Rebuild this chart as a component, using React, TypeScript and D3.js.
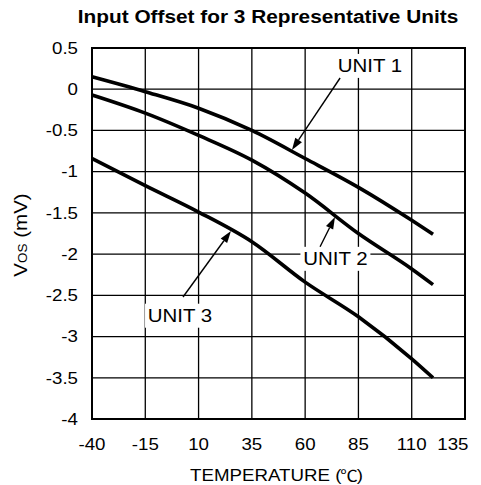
import React from "react";
import * as d3 from "d3";

const temps = [-40, -15, 10, 35, 60, 85, 110, 120];
const unit1 = [0.15, -0.03, -0.23, -0.5, -0.84, -1.19, -1.59, -1.76];
const unit2 = [-0.07, -0.29, -0.56, -0.86, -1.26, -1.75, -2.18, -2.37];
const unit3 = [-0.84, -1.17, -1.49, -1.85, -2.34, -2.76, -3.27, -3.5];
const seriesList = [unit1, unit2, unit3];

const xTicks = [-40, -15, 10, 35, 60, 85, 110, 135];
const yTicks = [0.5, 0, -0.5, -1, -1.5, -2, -2.5, -3, -3.5, -4];

const annotations = [
  { label: "UNIT 1", tx: 90.4, ty: 0.21, fromT: 76.4, fromV: 0.136, toT: 53.8, toV: -0.736 },
  { label: "UNIT 2", tx: 74.2, ty: -2.13, fromT: 67.0, fromV: -1.91, toT: 74.0, toV: -1.55 },
  { label: "UNIT 3", tx: 1.3, ty: -2.82, fromT: 2.7, fromV: -2.52, toT: 25.2, toV: -1.72 },
];

const title = "Input Offset for 3 Representative Units";
const xTitleMain = "TEMPERATURE (";
const xTitleUnit = "\u2103";

const W = 481;
const H = 485;
const M = { left: 92, right: 16, top: 48, bottom: 66 };
const FONT = "'Liberation Sans', Arial, Helvetica, sans-serif";
const SX = 1.17;

export default function App() {
  const x = d3.scaleLinear().domain([-40, 135]).range([M.left, W - M.right]);
  const y = d3.scaleLinear().domain([-4, 0.5]).range([H - M.bottom, M.top]);
  const line = d3
    .line<number>()
    .x((_, i) => x(temps[i]))
    .y((d) => y(d))
    .curve(d3.curveMonotoneX);

  const x0 = x(-40), x1 = x(135), y0 = y(0.5), y1 = y(-4);

  return (
    <svg
      width={W}
      height={H}
      style={{ position: "absolute", left: 0, top: 0, background: "#fff" }}
      fontFamily={FONT}
    >
      <rect x={0} y={0} width={W} height={H} fill="#fff" />
      {xTicks.slice(1, -1).map((t) => (
        <line key={"gx" + t} x1={x(t)} x2={x(t)} y1={y0} y2={y1} stroke="#000" strokeWidth={1.3} />
      ))}
      {yTicks.slice(1, -1).map((t) => (
        <line key={"gy" + t} x1={x0} x2={x1} y1={y(t)} y2={y(t)} stroke="#000" strokeWidth={1.3} />
      ))}
      <rect x={x0} y={y0} width={x1 - x0} height={y1 - y0} fill="none" stroke="#000" strokeWidth={2} />

      {seriesList.map((s, i) => (
        <path key={"s" + i} d={line(s) || ""} fill="none" stroke="#000" strokeWidth={3.6} strokeLinejoin="round" />
      ))}

      {annotations.map((a) => {
        const fx = x(a.fromT), fy = y(a.fromV), tx = x(a.toT), ty = y(a.toV);
        const ang = Math.atan2(ty - fy, tx - fx);
        const L = 12, Wd = 4;
        const bx = tx - L * Math.cos(ang), by = ty - L * Math.sin(ang);
        const p1 = [bx + Wd * Math.sin(ang), by - Wd * Math.cos(ang)];
        const p2 = [bx - Wd * Math.sin(ang), by + Wd * Math.cos(ang)];
        const cx = x(a.tx), cy = y(a.ty);
        return (
          <g key={a.label}>
            <rect x={cx - 35} y={cy - 18} width={70} height={24} fill="#fff" />
            <text
              transform={`translate(${cx},${cy}) scale(${SX},1)`}
              textAnchor="middle"
              fontSize={17.5}
              fill="#000"
            >
              {a.label}
            </text>
            <line x1={fx} y1={fy} x2={bx} y2={by} stroke="#000" strokeWidth={1.4} />
            <polygon points={`${tx},${ty} ${p1[0]},${p1[1]} ${p2[0]},${p2[1]}`} fill="#000" />
          </g>
        );
      })}

      {yTicks.map((t) => (
        <text
          key={"yl" + t}
          transform={`translate(${M.left - 14},${y(t) + 5.8}) scale(${SX},1)`}
          textAnchor="end"
          fontSize={16}
          fill="#000"
        >
          {t}
        </text>
      ))}
      {xTicks.map((t, i) => {
        const last = i === xTicks.length - 1;
        return (
          <text
            key={"xl" + t}
            transform={`translate(${last ? x(t) + 3.5 : x(t)},${y1 + 31}) scale(${SX},1)`}
            textAnchor={last ? "end" : "middle"}
            fontSize={16}
            fill="#000"
          >
            {t}
          </text>
        );
      })}

      <text
        transform={`translate(268,23) scale(${SX},1)`}
        textAnchor="middle"
        fontSize={17.8}
        fontWeight="bold"
        fill="#000"
      >
        {title}
      </text>
      <text
        transform={`translate(190,481) scale(${SX},1)`}
        textAnchor="start"
        fontSize={16}
        fill="#000"
      >
        {xTitleMain}
        <tspan fontFamily="'Noto Sans CJK SC', 'Noto Sans CJK JP', sans-serif" fontSize={15} dx={-1}>
          {xTitleUnit}
        </tspan>
        <tspan dx={-1}>)</tspan>
      </text>
      <text
        transform={`translate(27,235) rotate(-90) scale(1.08,1)`}
        textAnchor="middle"
        fontSize={19}
        fill="#000"
      >
        V<tspan fontSize={12.5}>OS</tspan> (mV)
      </text>
    </svg>
  );
}
